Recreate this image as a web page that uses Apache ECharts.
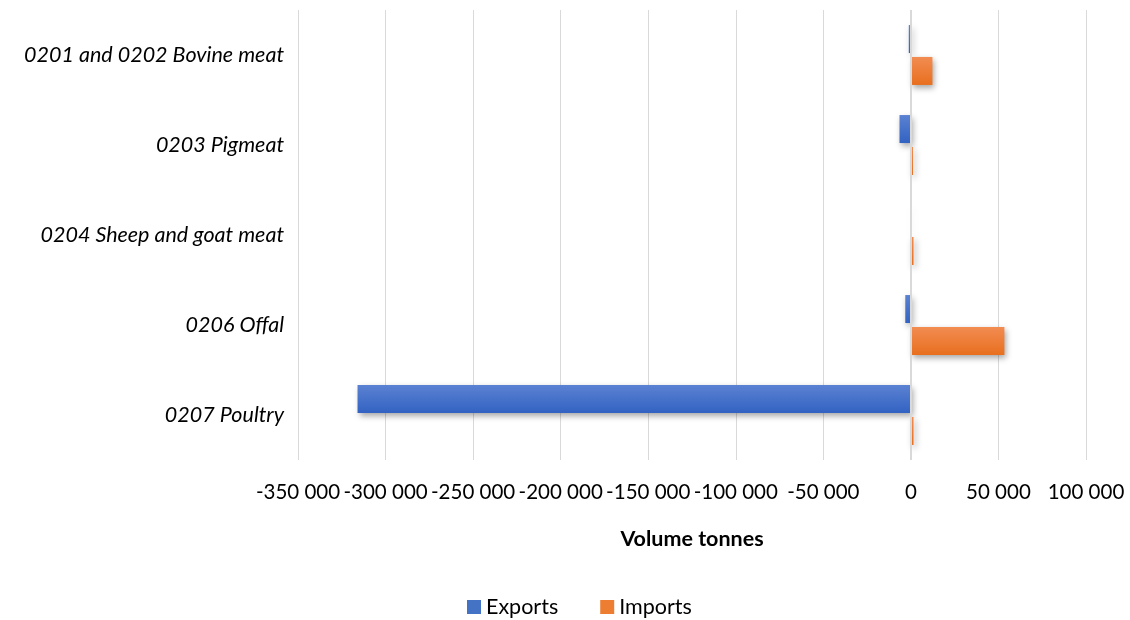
<!DOCTYPE html>
<html>
<head>
<meta charset="utf-8">
<script src="https://cdn.jsdelivr.net/npm/echarts@6/dist/echarts.min.js"></script>
<style>html,body{margin:0;padding:0;background:#fff;}#c{width:1130px;height:620px;}</style>
</head>
<body>
<div id="c"></div>
<script>
const categories = ['0201 and 0202 Bovine meat', '0203 Pigmeat', '0204 Sheep and goat meat', '0206 Offal', '0207 Poultry'];
const exportsData = [-1200, -6500, -150, -3200, -316000];
const importsData = [12300, 1200, 1500, 53400, 1500];
const seriesNames = ['Exports', 'Imports'];

const FONT = 'Lato';
const FS = 21.5;
const fmt = v => {
  const s = Math.abs(v).toString().replace(/\B(?=(\d{3})+(?!\d))/g, ' ');
  return (v < 0 ? '-' : '') + s;
};
const grad = (top, bottom) => new echarts.graphic.LinearGradient(0, 0, 0, 1, [
  {offset: 0, color: top}, {offset: 1, color: bottom}
]);
const shadow = {shadowBlur: 6, shadowColor: 'rgba(0,0,0,0.35)', shadowOffsetX: 2, shadowOffsetY: 3};

const chart = echarts.init(document.getElementById('c'), null, {renderer: 'canvas'});
chart.setOption({
  animation: false,
  textStyle: {fontFamily: FONT},
  grid: {left: 298, right: 44, top: 10, bottom: 160, containLabel: false},
  legend: {
    top: 591, left: 462, itemGap: 42, itemWidth: 14, itemHeight: 14,
    icon: 'rect',
    textStyle: {fontFamily: FONT, fontSize: FS, color: '#000'},
    data: [
      {name: seriesNames[0], itemStyle: {color: '#4472c4'}},
      {name: seriesNames[1], itemStyle: {color: '#ed7d31'}}
    ]
  },
  xAxis: {
    type: 'value', min: -350000, max: 100000, interval: 50000,
    axisLine: {show: false}, axisTick: {show: false},
    splitLine: {show: true, lineStyle: {color: '#d9d9d9', width: 1}},
    axisLabel: {formatter: fmt, fontFamily: FONT, fontSize: 20.5, color: '#000', margin: 22,
      showMinLabel: true, showMaxLabel: true, hideOverlap: false},
    name: 'Volume tonnes', nameLocation: 'middle', nameGap: 68,
    nameTextStyle: {fontFamily: FONT, fontSize: FS, fontWeight: 'bold', color: '#000'}
  },
  yAxis: {
    type: 'category', data: categories, inverse: true,
    axisLine: {show: false, onZero: false}, axisTick: {show: false},
    axisLabel: {fontFamily: FONT, fontSize: FS, fontStyle: 'italic', color: '#000', margin: 14}
  },
  series: [
    {
      name: seriesNames[0], type: 'bar', data: exportsData, barWidth: 28, barGap: '14%',
      itemStyle: Object.assign({color: grad('#5b82d2', '#3262c2')}, shadow),
      markLine: {
        silent: true, symbol: 'none', label: {show: false},
        lineStyle: {color: '#d9d9d9', width: 2, type: 'solid'},
        data: [{xAxis: 0}]
      }
    },
    {
      name: seriesNames[1], type: 'bar', data: importsData, barWidth: 28,
      itemStyle: Object.assign({color: grad('#f28c52', '#e86f1e')}, shadow)
    }
  ]
});
</script>
</body>
</html>
